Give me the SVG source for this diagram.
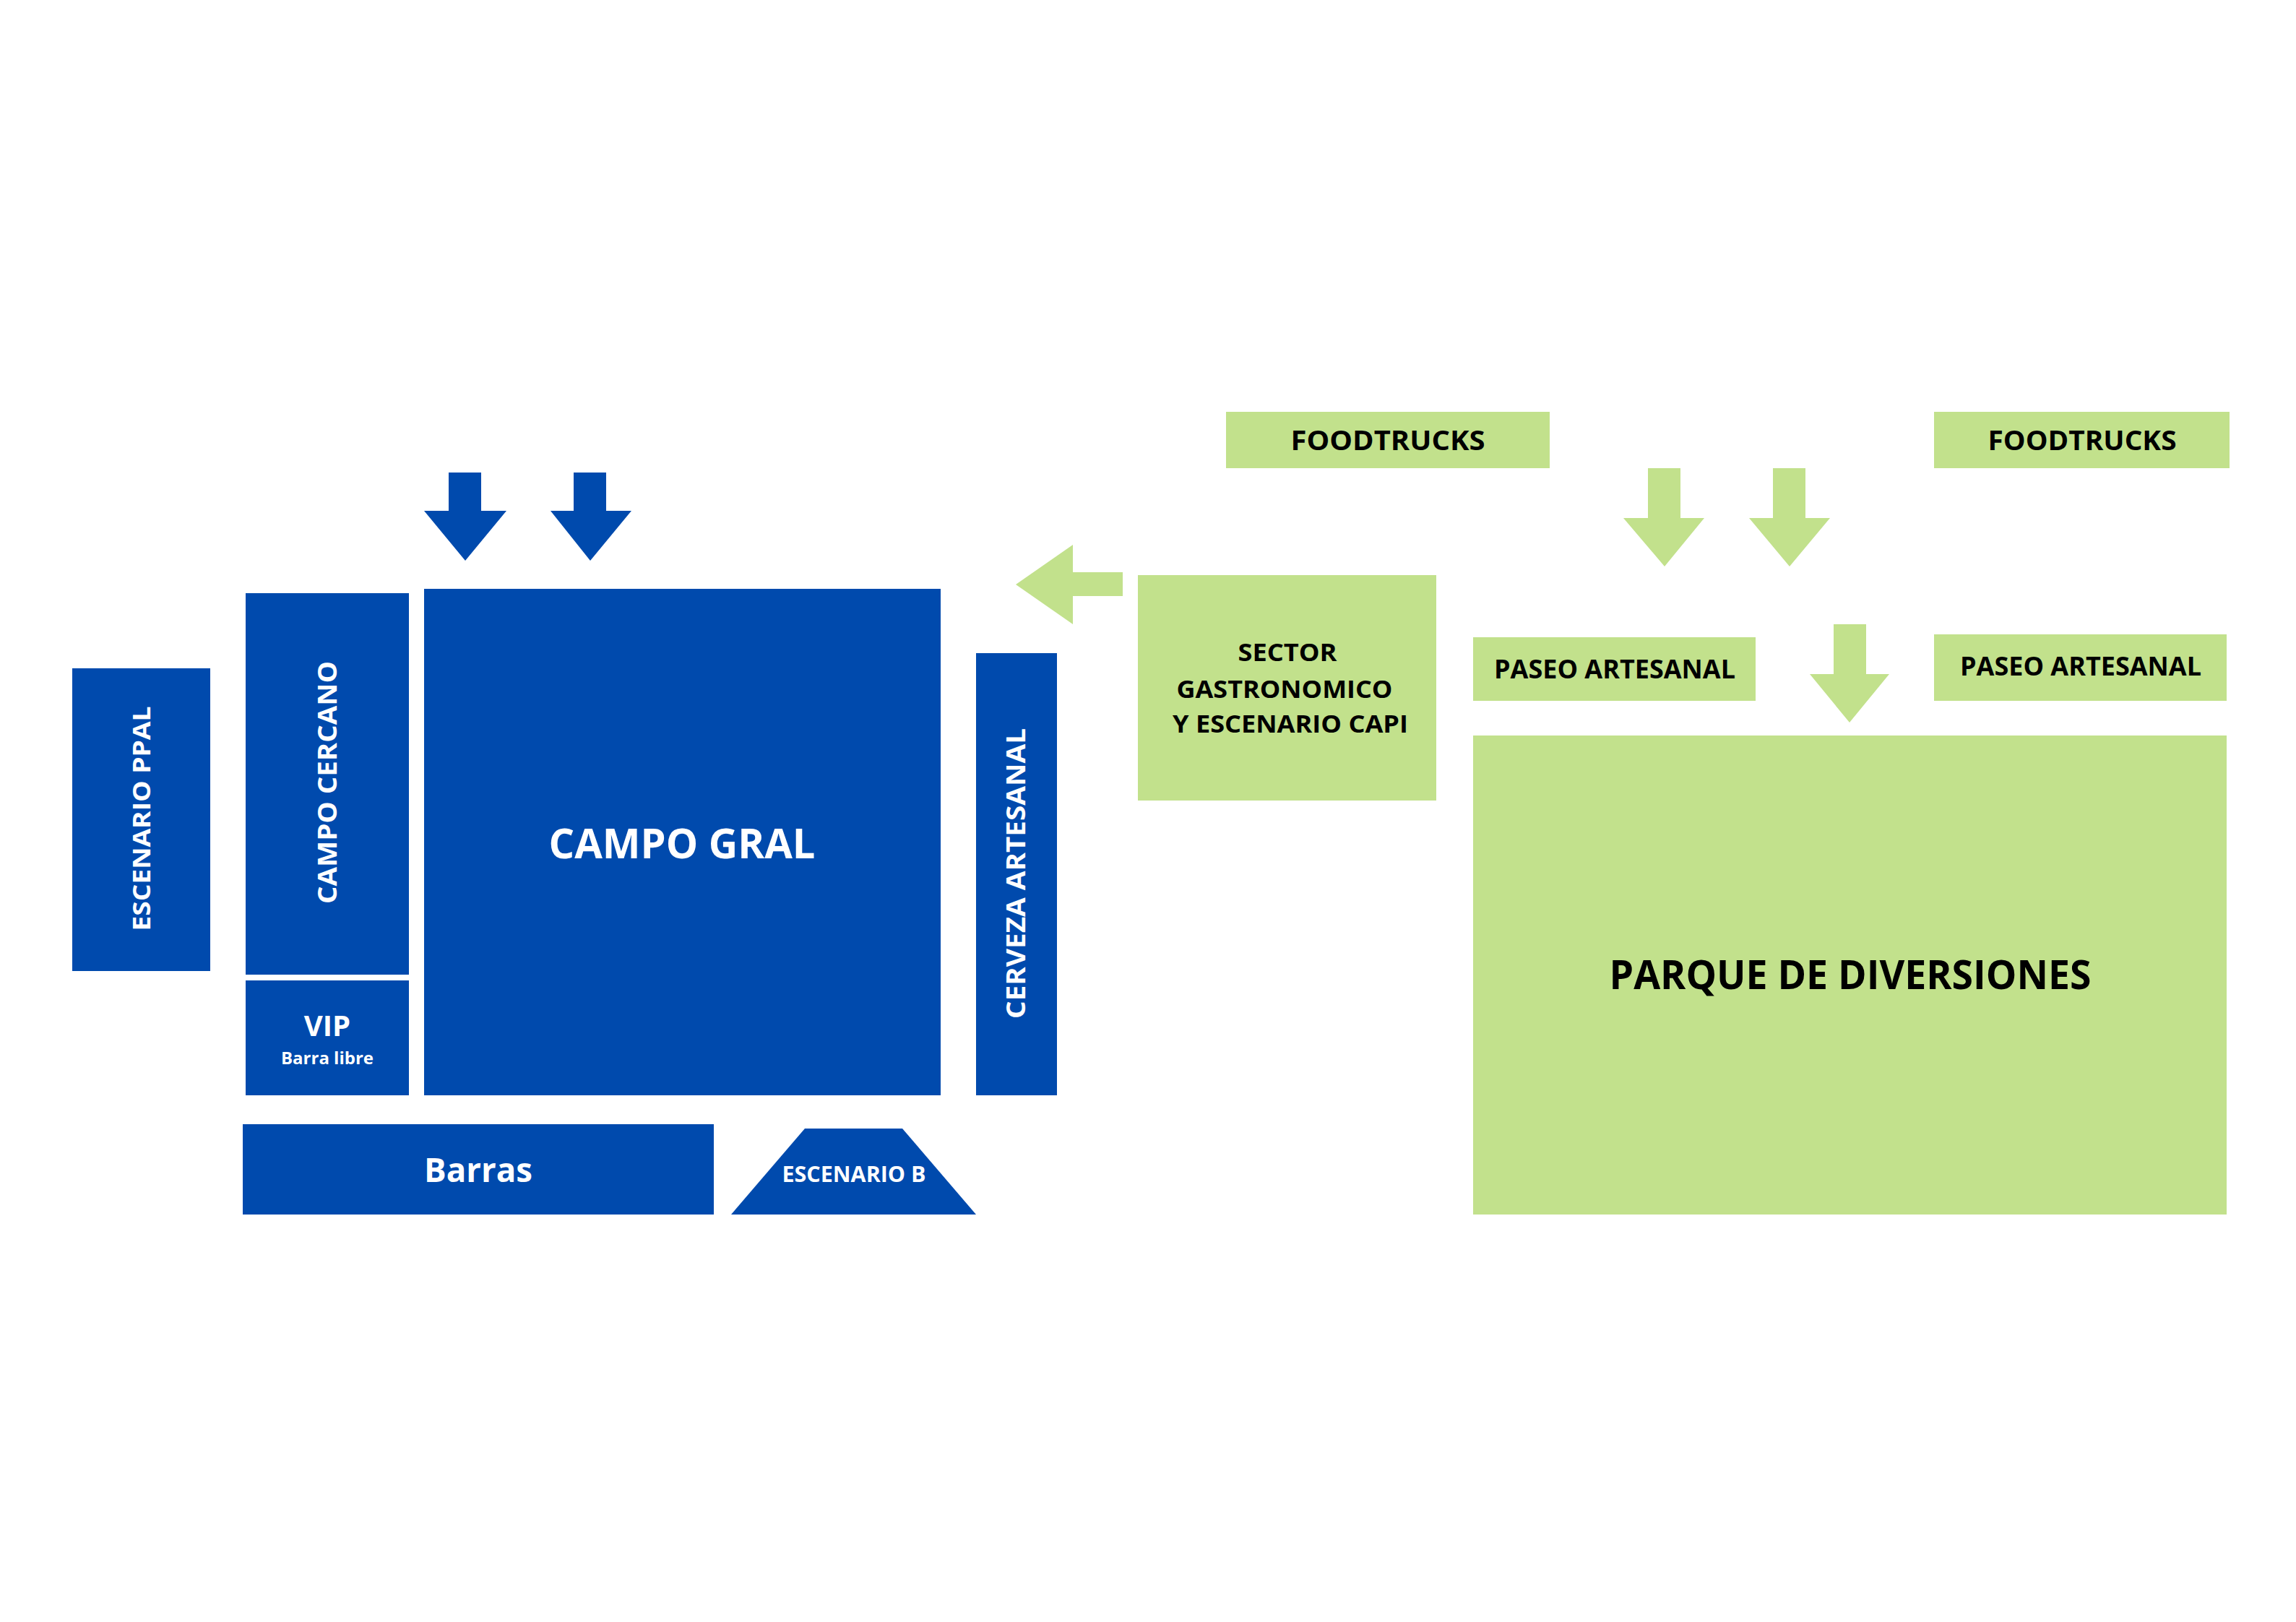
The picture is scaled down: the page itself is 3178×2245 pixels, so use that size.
<svg xmlns="http://www.w3.org/2000/svg" width="3178" height="2245" viewBox="0 0 3178 2245">
<style>
.b{fill:#004AAD}.g{fill:#C2E18C}
text{font-family:"Open Sans","Liberation Sans",sans-serif;font-weight:bold;text-anchor:middle}
.w{fill:#fff}.k{fill:#000}
</style>
<rect width="3178" height="2245" fill="#fff"/>
<g id="connectors">
<polygon class="b" points="621,654 666,654 666,707 701,707 644,776 587,707 621,707"/>
<polygon class="b" points="794,654 839,654 839,707 874,707 817,776 762,707 794,707"/>
<polygon class="g" points="1554,792 1554,825 1485,825 1485,864 1406,809 1485,754 1485,792"/>
<polygon class="g" points="2281,648 2326,648 2326,717 2359,717 2304,784 2247,717 2281,717"/>
<polygon class="g" points="2454,648 2499,648 2499,717 2533,717 2477,784 2421,717 2454,717"/>
<polygon class="g" points="2538,864 2583,864 2583,933 2615,933 2560,1000 2505,933 2538,933"/>
</g>
<g id="escenario-ppal"><rect class="b" x="100" y="925" width="191" height="419"/>
<text class="w" font-size="34" transform="translate(208,1133) rotate(-90)" textLength="311" lengthAdjust="spacingAndGlyphs">ESCENARIO PPAL</text></g>
<g id="campo-cercano"><rect class="b" x="340" y="821" width="226" height="528"/>
<text class="w" font-size="36" transform="translate(466,1083) rotate(-90)" textLength="336" lengthAdjust="spacingAndGlyphs">CAMPO CERCANO</text></g>
<g id="vip"><rect class="b" x="340" y="1357" width="226" height="159"/>
<text class="w" font-size="40" x="453" y="1434">VIP</text>
<text class="w" font-size="24" x="453" y="1473" textLength="128" lengthAdjust="spacingAndGlyphs">Barra libre</text></g>
<g id="campo-gral"><rect class="b" x="587" y="815" width="715" height="701"/>
<text class="w" font-size="57" x="944" y="1188" textLength="369" lengthAdjust="spacingAndGlyphs">CAMPO GRAL</text></g>
<g id="cerveza"><rect class="b" x="1351" y="904" width="112" height="612"/>
<text class="w" font-size="36" transform="translate(1419,1209) rotate(-90)" textLength="402" lengthAdjust="spacingAndGlyphs">CERVEZA ARTESANAL</text></g>
<g id="barras"><rect class="b" x="336" y="1556" width="652" height="125"/>
<text class="w" font-size="46" x="662" y="1636" textLength="150" lengthAdjust="spacingAndGlyphs">Barras</text></g>
<g id="escenario-b"><polygon class="b" points="1114,1562 1249,1562 1351,1681 1012,1681"/>
<text class="w" font-size="30" x="1182" y="1636" textLength="199" lengthAdjust="spacingAndGlyphs">ESCENARIO B</text></g>
<g id="sector"><rect class="g" x="1575" y="796" width="413" height="312"/>
<text class="k" font-size="34" x="1782" y="915" textLength="137" lengthAdjust="spacingAndGlyphs">SECTOR</text>
<text class="k" font-size="34" x="1778" y="966" textLength="299" lengthAdjust="spacingAndGlyphs">GASTRONOMICO</text>
<text class="k" font-size="34" x="1786" y="1014" textLength="326" lengthAdjust="spacingAndGlyphs">Y ESCENARIO CAPI</text></g>
<g id="foodtrucks1"><rect class="g" x="1697" y="570" width="448" height="78"/>
<text class="k" font-size="38" x="1921" y="623" textLength="269" lengthAdjust="spacingAndGlyphs">FOODTRUCKS</text></g>
<g id="foodtrucks2"><rect class="g" x="2677" y="570" width="409" height="78"/>
<text class="k" font-size="38" x="2882" y="623" textLength="261" lengthAdjust="spacingAndGlyphs">FOODTRUCKS</text></g>
<g id="paseo1"><rect class="g" x="2039" y="882" width="391" height="88"/>
<text class="k" font-size="36" x="2235" y="939" textLength="334" lengthAdjust="spacingAndGlyphs">PASEO ARTESANAL</text></g>
<g id="paseo2"><rect class="g" x="2677" y="878" width="405" height="92"/>
<text class="k" font-size="36" x="2880" y="935" textLength="334" lengthAdjust="spacingAndGlyphs">PASEO ARTESANAL</text></g>
<g id="parque"><rect class="g" x="2039" y="1018" width="1043" height="663"/>
<text class="k" font-size="56" x="2561" y="1369" textLength="667" lengthAdjust="spacingAndGlyphs">PARQUE DE DIVERSIONES</text></g>
</svg>
